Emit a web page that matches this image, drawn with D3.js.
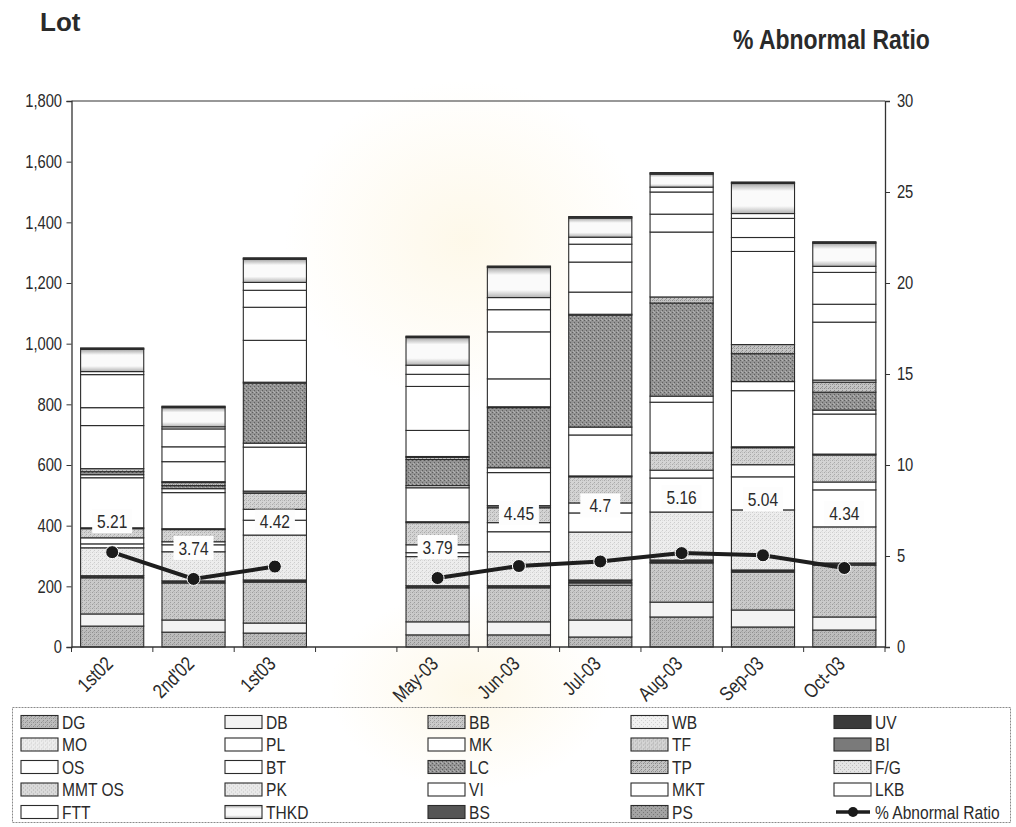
<!DOCTYPE html>
<html>
<head>
<meta charset="utf-8">
<script src="https://cdn.jsdelivr.net/npm/d3@7"></script>
<style>
  body { margin: 0; background: #fff; }
  svg { display: block; }
  text { font-family: "Liberation Sans", Arial, sans-serif; fill: #2a2a2a; }
</style>
</head>
<body>
<svg id="chart" width="1016" height="827"></svg>
<script>
// ---- data -------------------------------------------------------------
const categories = ["1st02", "2nd'02", "1st03", "", "May-03", "Jun-03", "Jul-03", "Aug-03", "Sep-03", "Oct-03"];

// lots per defect type, listed from the bottom of each stack upwards
const DG    = [69, 49, 46, 0, 40, 40, 33, 99, 66, 56];
const DB    = [40, 40, 33, 0, 43, 43, 56, 49, 56, 43];
const BB    = [119, 122, 135, 0, 112, 112, 115, 129, 125, 171];
const WB    = [0, 0, 0, 0, 0, 0, 7, 3, 0, 0];
const UV    = [7, 7, 7, 0, 7, 7, 10, 7, 7, 7];
const MO    = [92, 96, 148, 0, 96, 112, 158, 158, 198, 119];
const PL    = [13, 23, 49, 0, 13, 66, 63, 112, 109, 122];
const MK    = [20, 10, 36, 0, 26, 30, 33, 26, 40, 26];
const TF    = [30, 40, 53, 0, 73, 49, 86, 56, 56, 89];
const BI    = [3, 3, 7, 0, 3, 7, 3, 3, 3, 3];
const OS    = [165, 119, 145, 0, 112, 109, 135, 165, 185, 132];
const BT    = [10, 13, 13, 0, 7, 16, 26, 20, 30, 13];
const LC    = [10, 10, 198, 0, 86, 198, 369, 307, 92, 59];
const TP    = [10, 10, 3, 0, 7, 3, 3, 20, 30, 33];
const FG    = [0, 0, 0, 0, 0, 0, 0, 0, 0, 7];
const MMTOS = [0, 3, 0, 0, 0, 0, 0, 0, 0, 0];
const PK    = [0, 0, 0, 0, 3, 0, 0, 0, 0, 0];
const VI    = [142, 66, 138, 0, 86, 92, 73, 214, 307, 191];
const MKT   = [59, 49, 109, 0, 145, 155, 99, 59, 46, 59];
const LKB   = [109, 59, 56, 0, 40, 73, 59, 73, 63, 105];
const FTT   = [10, 7, 26, 0, 30, 40, 23, 16, 16, 20];
const THKD  = [73, 63, 76, 0, 91, 99, 63, 43, 99, 76];
const BS    = [3, 3, 3, 0, 3, 3, 3, 3, 3, 3];
const PS    = [2, 2, 2, 0, 2, 2, 2, 2, 2, 2];

const abnormalRatio = [5.21, 3.74, 4.42, null, 3.79, 4.45, 4.7, 5.16, 5.04, 4.34];

const lotTicks   = [0, 200, 400, 600, 800, 1000, 1200, 1400, 1600, 1800];
const ratioTicks = [0, 5, 10, 15, 20, 25, 30];

const seriesNames = ["DG", "DB", "BB", "WB", "UV", "MO", "PL", "MK", "TF", "BI", "OS", "BT",
                     "LC", "TP", "F/G", "MMT OS", "PK", "VI", "MKT", "LKB", "FTT", "THKD", "BS", "PS"];
const seriesValues = [DG, DB, BB, WB, UV, MO, PL, MK, TF, BI, OS, BT,
                      LC, TP, FG, MMTOS, PK, VI, MKT, LKB, FTT, THKD, BS, PS];

// ---- layout & styles --------------------------------------------------
const W = 1016, H = 827;
const plot = { left: 71.5, right: 885, top: 101, bottom: 647 };
const NARROW = 0.82;                 // horizontal squeeze giving a condensed face
// how far each ratio label sits above its marker
const labelLift = [31, 31, 45, 0, 31, 53, 56, 56, 56, 55];

const svg = d3.select("#chart");
const defs = svg.append("defs");

// speckled fills imitating the printed screen tones
function speckle(id, base, dot, dot2) {
  const p = defs.append("pattern").attr("id", id)
    .attr("patternUnits", "userSpaceOnUse").attr("width", 4).attr("height", 4);
  p.append("rect").attr("width", 4).attr("height", 4).attr("fill", base);
  p.append("rect").attr("x", 0).attr("y", 0).attr("width", 1).attr("height", 1).attr("fill", dot);
  p.append("rect").attr("x", 2).attr("y", 2).attr("width", 1).attr("height", 1).attr("fill", dot);
  if (dot2) {
    p.append("rect").attr("x", 2).attr("y", 0).attr("width", 1).attr("height", 1).attr("fill", dot2);
    p.append("rect").attr("x", 1).attr("y", 3).attr("width", 1).attr("height", 1).attr("fill", dot2);
  }
  return `url(#${id})`;
}
const grad = defs.append("linearGradient").attr("id", "thkd")
  .attr("x1", 0).attr("y1", 0).attr("x2", 0).attr("y2", 1);
[[0, "#a6a6a6"], [0.25, "#fafafa"], [0.75, "#fafafa"], [1, "#b2b2b2"]]
  .forEach(([o, c]) => grad.append("stop").attr("offset", o).attr("stop-color", c));

const fills = {
  "DG": speckle("pDG", "#bdbdbd", "#8e8e8e", "#a5a5a5"),
  "DB": "#f3f3f3",
  "BB": speckle("pBB", "#cacaca", "#9c9c9c", "#b4b4b4"),
  "WB": speckle("pWB", "#f1f1f1", "#d2d2d2"),
  "UV": "#3a3a3a",
  "MO": speckle("pMO", "#ededed", "#cdcdcd", "#dedede"),
  "PL": "#ffffff",
  "MK": "#ffffff",
  "TF": speckle("pTF", "#d4d4d4", "#a9a9a9", "#bdbdbd"),
  "BI": "#7a7a7a",
  "OS": "#ffffff",
  "BT": "#ffffff",
  "LC": speckle("pLC", "#939393", "#5f5f5f", "#b2b2b2"),
  "TP": speckle("pTP", "#c4c4c4", "#8a8a8a", "#a0a0a0"),
  "F/G": speckle("pFG", "#e4e4e4", "#bdbdbd"),
  "MMT OS": speckle("pMM", "#dadada", "#b0b0b0"),
  "PK": speckle("pPK", "#e9e9e9", "#c6c6c6"),
  "VI": "#ffffff",
  "MKT": "#ffffff",
  "LKB": "#ffffff",
  "FTT": "#ffffff",
  "THKD": "url(#thkd)",
  "BS": "#555555",
  "PS": speckle("pPS", "#a3a3a3", "#777777")
};

// faint background emblem tint
const glow = defs.append("radialGradient").attr("id", "glow");
glow.append("stop").attr("offset", 0).attr("stop-color", "#fcf0cf").attr("stop-opacity", 0.45);
glow.append("stop").attr("offset", 1).attr("stop-color", "#fcf0cf").attr("stop-opacity", 0);
svg.append("rect").attr("width", W).attr("height", H).attr("fill", "#ffffff");
svg.append("ellipse").attr("cx", 465).attr("cy", 240).attr("rx", 180).attr("ry", 160).attr("fill", "url(#glow)");
svg.append("ellipse").attr("cx", 470).attr("cy", 690).attr("rx", 140).attr("ry", 100).attr("fill", "url(#glow)");

// ---- scales -----------------------------------------------------------
const x = d3.scaleBand().domain(d3.range(categories.length))
  .range([plot.left, plot.right]).paddingInner(0.224).paddingOuter(0.112);
const y = d3.scaleLinear().domain([0, 1800]).range([plot.bottom, plot.top]);
const y2 = d3.scaleLinear().domain([0, 30]).range([plot.bottom, plot.top]);
const cx = i => x(i) + x.bandwidth() / 2;

const rows = categories.map((c, i) => {
  const r = { idx: i };
  seriesNames.forEach((s, k) => { r[s] = seriesValues[k][i]; });
  return r;
});
const stacked = d3.stack().keys(seriesNames)(rows);

// ---- bars -------------------------------------------------------------
const barG = svg.append("g");
stacked.forEach(layer => {
  barG.append("g").selectAll("rect")
    .data(layer.filter(d => d[1] - d[0] > 0))
    .join("rect")
    .attr("x", d => x(d.data.idx))
    .attr("width", x.bandwidth())
    .attr("y", d => y(d[1]))
    .attr("height", d => y(d[0]) - y(d[1]))
    .attr("fill", fills[layer.key])
    .attr("stroke", "#2b2b2b")
    .attr("stroke-width", 1.1);
});

// ---- frame & axes -----------------------------------------------------
const axisColor = "#333";
svg.append("line").attr("x1", plot.left).attr("x2", plot.right)
  .attr("y1", plot.top).attr("y2", plot.top).attr("stroke", axisColor).attr("stroke-width", 1.2);
svg.append("line").attr("x1", plot.left).attr("x2", plot.right)
  .attr("y1", plot.bottom).attr("y2", plot.bottom).attr("stroke", axisColor).attr("stroke-width", 1.4);

const leftAxis = svg.append("g").attr("transform", `translate(${plot.left},0)`)
  .call(d3.axisLeft(y).tickValues(lotTicks).tickFormat(d3.format(",")).tickSize(5).tickPadding(6.5));
const rightAxis = svg.append("g").attr("transform", `translate(${plot.right},0)`)
  .call(d3.axisRight(y2).tickValues(ratioTicks).tickSize(5).tickPadding(9.5));
[leftAxis, rightAxis].forEach(a => {
  a.select(".domain").attr("stroke", axisColor).attr("stroke-width", 1.3);
  a.selectAll(".tick line").attr("stroke", axisColor);
  a.selectAll(".tick text").style("font-size", "18px").attr("fill", "#2a2a2a")
    .attr("transform", `scale(${NARROW},1)`);
});

// category boundary ticks
const step = x.step();
const bounds = d3.range(categories.length + 1).map(i =>
  i < categories.length ? x(i) - x.paddingInner() * step / 2 : x(i - 1) + x.bandwidth() + x.paddingInner() * step / 2);
svg.append("g").selectAll("line").data(bounds).join("line")
  .attr("x1", d => d).attr("x2", d => d)
  .attr("y1", plot.bottom).attr("y2", plot.bottom + 5)
  .attr("stroke", axisColor);

svg.append("g").selectAll("text").data(categories.map((c, i) => ({ c, i })).filter(d => d.c))
  .join("text")
  .attr("transform", d => `translate(${cx(d.i) - 3},${plot.bottom + 13}) rotate(-45) scale(${NARROW},1)`)
  .attr("text-anchor", "end")
  .attr("dy", "0.35em")
  .style("font-size", "20px")
  .text(d => d.c);

// ---- ratio line -------------------------------------------------------
const pts = abnormalRatio.map((v, i) => ({ v, i }));
const line = d3.line()
  .defined(d => d.v != null)
  .x(d => cx(d.i))
  .y(d => y2(d.v));
svg.append("path").datum(pts).attr("d", line)
  .attr("fill", "none").attr("stroke", "#1e1e1e").attr("stroke-width", 4);
svg.append("g").selectAll("circle").data(pts.filter(d => d.v != null)).join("circle")
  .attr("cx", d => cx(d.i))
  .attr("cy", d => y2(d.v))
  .attr("r", 6.5)
  .attr("fill", "#1a1a1a").attr("stroke", "#fff").attr("stroke-width", 1);

const lab = svg.append("g").selectAll("g").data(pts.filter(d => d.v != null)).join("g")
  .attr("transform", d => `translate(${cx(d.i)},${y2(d.v) - labelLift[d.i]})`);
lab.append("rect").attr("x", -20).attr("y", -12).attr("width", 40).attr("height", 24).attr("fill", "#fdfdfd");
lab.append("text").attr("text-anchor", "middle").attr("dy", "0.36em")
  .attr("transform", `scale(${NARROW},1)`)
  .style("font-size", "19px").text(d => d.v);

// ---- titles -----------------------------------------------------------
svg.append("text").attr("transform", "translate(40,31)")
  .style("font-size", "26px").style("font-weight", "bold").text("Lot");
svg.append("text").attr("transform", `translate(733,49) scale(${NARROW},1)`)
  .style("font-size", "28px").style("font-weight", "bold").text("% Abnormal Ratio");

// ---- legend -----------------------------------------------------------
svg.append("rect").attr("x", 12.5).attr("y", 707.5).attr("width", 998).attr("height", 115)
  .attr("fill", "none").attr("stroke", "#8a8a8a").attr("stroke-width", 1).attr("stroke-dasharray", "2,1");
const colX = [21, 225, 428, 631, 834];
const rowY = [722, 744.5, 767, 789.5, 812];
const legendItems = seriesNames.map(s => ({ key: s, kind: "bar" })).concat([{ key: "% Abnormal Ratio", kind: "line" }]);
const lg = svg.append("g").selectAll("g").data(legendItems).join("g")
  .attr("transform", (d, i) => `translate(${colX[i % 5]},${rowY[Math.floor(i / 5)]})`);
lg.filter(d => d.kind === "bar").append("rect")
  .attr("x", 0).attr("y", -6.5).attr("width", 37).attr("height", 13)
  .attr("fill", d => fills[d.key]).attr("stroke", "#2b2b2b").attr("stroke-width", 1.1);
const ll = lg.filter(d => d.kind === "line");
ll.append("line").attr("x1", 2).attr("x2", 36).attr("y1", 0).attr("y2", 0)
  .attr("stroke", "#1e1e1e").attr("stroke-width", 3.5);
ll.append("circle").attr("cx", 19).attr("cy", 0).attr("r", 5).attr("fill", "#1a1a1a");
lg.append("text").attr("transform", `translate(41,0) scale(${NARROW},1)`)
  .attr("dy", "0.36em").style("font-size", "19px").text(d => d.key);
</script>
</body>
</html>
